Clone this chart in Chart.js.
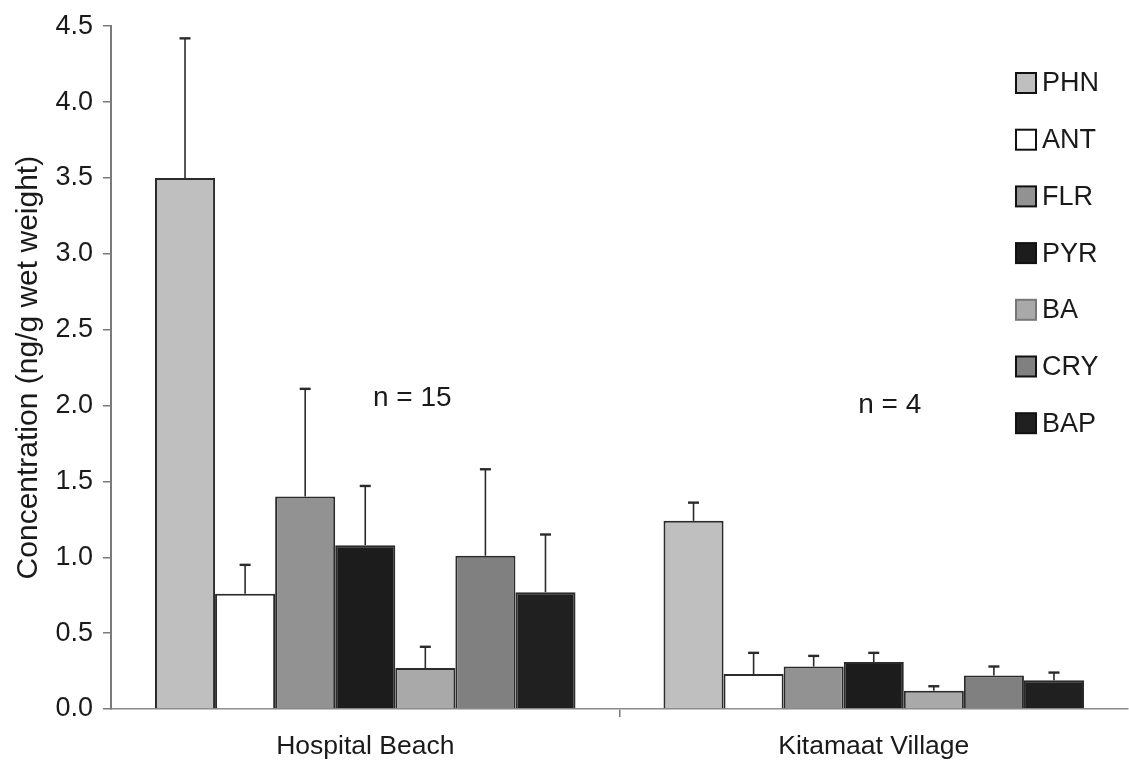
<!DOCTYPE html>
<html>
<head>
<meta charset="utf-8">
<script src="https://cdn.jsdelivr.net/npm/chart.js@4.4.1/dist/chart.umd.min.js"></script>
<style>
  html, body { margin: 0; padding: 0; background: #ffffff; }
  #wrap { width: 1129px; height: 764px; position: relative; }
</style>
</head>
<body>
<div id="wrap"><canvas id="chart" width="1129" height="764"></canvas></div>
<script>
// Sampling sites
const sites = ['Hospital Beach', 'Kitamaat Village'];
// Sample sizes per site
const sampleSizes = ['n = 15', 'n = 4'];
// Compounds (PAHs)
const compounds = ['PHN', 'ANT', 'FLR', 'PYR', 'BA', 'CRY', 'BAP'];

// Mean concentrations (ng/g wet weight), [Hospital Beach, Kitamaat Village]
const phn = [3.50, 1.24];
const ant = [0.76, 0.23];
const flr = [1.40, 0.28];
const pyr = [1.08, 0.31];
const ba  = [0.27, 0.12];
const cry = [1.01, 0.22];
const bap = [0.77, 0.19];

// Upper end of the error bars (mean + SE)
const phnErr = [4.42, 1.36];
const antErr = [0.95, 0.37];
const flrErr = [2.11, 0.35];
const pyrErr = [1.47, 0.37];
const baErr  = [0.41, 0.15];
const cryErr = [1.58, 0.28];
const bapErr = [1.15, 0.24];

// y axis ticks
const yTicks = [0.0, 0.5, 1.0, 1.5, 2.0, 2.5, 3.0, 3.5, 4.0, 4.5];
const yTitle = 'Concentration (ng/g wet weight)';
// height at which the sample-size notes sit
const nLabelValue = [2.05, 2.0];

const means = [phn, ant, flr, pyr, ba, cry, bap];
const errTops = [phnErr, antErr, flrErr, pyrErr, baErr, cryErr, bapErr];
const fills = ['#bfbfbf', '#ffffff', '#929292', '#1c1c1c', '#a9a9a9', '#808080', '#202020'];

const FONT = '"Liberation Sans", Arial, Helvetica, sans-serif';
const INK = '#1a1a1a';

const datasets = compounds.map((name, i) => ({
  label: name,
  data: means[i],
  errTop: errTops[i],
  backgroundColor: fills[i],
  borderColor: '#2b2b2b',
  borderWidth: 2,
  borderSkipped: 'bottom',
  categoryPercentage: 0.827,
  barPercentage: 1.0
}));

// Error bars: vertical whisker from bar top to mean + SE, with a short cap
const errorBars = {
  id: 'errorBars',
  afterDatasetsDraw(chart) {
    const ctx = chart.ctx;
    const y = chart.scales.y;
    ctx.save();
    ctx.strokeStyle = '#2b2b2b';
    chart.data.datasets.forEach((ds, di) => {
      const meta = chart.getDatasetMeta(di);
      meta.data.forEach((bar, i) => {
        const top = y.getPixelForValue(ds.errTop[i]);
        ctx.lineWidth = 1.6;
        ctx.beginPath();
        ctx.moveTo(bar.x, bar.y);
        ctx.lineTo(bar.x, top);
        ctx.stroke();
        ctx.lineWidth = 2.4;
        ctx.beginPath();
        ctx.moveTo(bar.x - 5.5, top);
        ctx.lineTo(bar.x + 5.5, top);
        ctx.stroke();
      });
    });
    ctx.restore();
  }
};

// Sample size notes and the compound key at the right
const notesAndKey = {
  id: 'notesAndKey',
  afterDraw(chart) {
    const ctx = chart.ctx;
    const x = chart.scales.x;
    const y = chart.scales.y;
    ctx.save();
    ctx.fillStyle = INK;
    ctx.font = '28px ' + FONT;
    ctx.textBaseline = 'middle';
    ctx.textAlign = 'center';
    const shifts = [47, 16];
    sampleSizes.forEach((t, i) => {
      ctx.fillText(t, x.getPixelForValue(i) + shifts[i], y.getPixelForValue(nLabelValue[i]));
    });

    // key
    const keyX = 1016, keyY0 = 83, step = 56.7, box = 20;
    ctx.textAlign = 'left';
    ctx.font = '27px ' + FONT;
    chart.data.datasets.forEach((ds, i) => {
      const cy = keyY0 + i * step;
      ctx.fillStyle = ds.backgroundColor;
      ctx.fillRect(keyX, cy - box / 2, box, box);
      ctx.lineWidth = 2;
      ctx.strokeStyle = i === 4 ? '#777777' : '#111111';
      ctx.strokeRect(keyX, cy - box / 2, box, box);
      ctx.fillStyle = INK;
      ctx.fillText(ds.label, keyX + box + 6, cy + 1);
    });
    ctx.restore();
  }
};

new Chart(document.getElementById('chart'), {
  type: 'bar',
  data: { labels: sites, datasets },
  options: {
    responsive: false,
    animation: false,
    devicePixelRatio: 1,
    layout: { padding: { top: 23, right: 1, bottom: 0, left: 0 } },
    plugins: {
      legend: { display: false },
      tooltip: { enabled: false }
    },
    scales: {
      x: {
        grid: {
          offset: true,
          drawOnChartArea: false,
          drawTicks: true,
          tickLength: 8,
          // only the divider between the two sites gets a tick
          color: ctx => (ctx.index === 1 ? '#7a7a7a' : 'rgba(0,0,0,0)'),
          lineWidth: 1.5
        },
        border: { display: true, color: '#8a8a8a', width: 1.5 },
        ticks: {
          color: INK,
          font: { family: FONT, size: 26.5 },
          padding: 14
        },
        afterFit(scale) { scale.height = 55; }
      },
      y: {
        min: 0,
        max: 4.5,
        afterBuildTicks(scale) { scale.ticks = yTicks.map(v => ({ value: v })); },
        grid: {
          drawOnChartArea: false,
          drawTicks: true,
          tickLength: 8,
          color: '#7a7a7a',
          lineWidth: 1.5
        },
        border: { display: true, color: '#7a7a7a', width: 2 },
        ticks: {
          color: INK,
          font: { family: FONT, size: 27 },
          padding: 10,
          callback: v => Number(v).toFixed(1)
        },
        title: {
          display: true,
          text: yTitle,
          color: INK,
          font: { family: FONT, size: 30 },
          padding: { top: 11, bottom: 0 }
        },
        afterFit(scale) { scale.width = 111; }
      }
    }
  },
  plugins: [errorBars, notesAndKey]
});
</script>
</body>
</html>
